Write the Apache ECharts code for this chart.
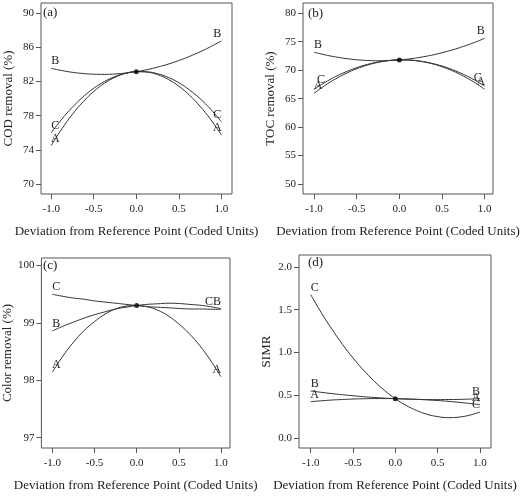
<!DOCTYPE html>
<html>
<head>
<meta charset="utf-8">
<script src="https://cdn.jsdelivr.net/npm/echarts@6/dist/echarts.min.js"></script>
<style>html,body{margin:0;padding:0;background:#fff}#c{width:524px;height:496px}</style>
</head>
<body>
<div id="c"></div>
<script>
// ---- data ----
const xs = [-1, -0.875, -0.75, -0.625, -0.5, -0.375, -0.25, -0.125, 0,
            0.125, 0.25, 0.375, 0.5, 0.625, 0.75, 0.875, 1];

const codA = [74.5, 76.46, 78.17, 79.63, 80.84, 81.8, 82.5, 82.96, 83.16,
              83.11, 82.81, 82.26, 81.46, 80.41, 79.1, 77.55, 75.74];
const codB = [83.55, 83.29, 83.08, 82.94, 82.86, 82.84, 82.89, 82.99, 83.16,
              83.39, 83.69, 84.04, 84.46, 84.94, 85.48, 86.09, 86.76];
const codC = [76.0, 77.61, 79.01, 80.21, 81.21, 82.0, 82.59, 82.98, 83.16,
              83.14, 82.92, 82.49, 81.86, 81.02, 79.99, 78.75, 77.3];

const tocA = [65.94, 67.28, 68.44, 69.43, 70.25, 70.89, 71.37, 71.67, 71.8,
              71.76, 71.54, 71.16, 70.6, 69.87, 68.96, 67.89, 66.64];
const tocB = [73.15, 72.7, 72.33, 72.04, 71.83, 71.7, 71.65, 71.69, 71.8,
              71.99, 72.27, 72.62, 73.06, 73.57, 74.17, 74.84, 75.6];
const tocC = [66.64, 67.82, 68.85, 69.72, 70.44, 71.01, 71.43, 71.69, 71.8,
              71.76, 71.57, 71.22, 70.72, 70.07, 69.27, 68.31, 67.2];

const colorA = [98.14, 98.42, 98.66, 98.86, 99.02, 99.15, 99.24, 99.29, 99.3,
                99.28, 99.22, 99.12, 98.98, 98.81, 98.6, 98.35, 98.06];
const colorB = [98.857, 98.94, 99.01, 99.08, 99.14, 99.19, 99.24, 99.27, 99.3,
                99.32, 99.33, 99.34, 99.335, 99.32, 99.305, 99.28, 99.245];
const colorC = [99.495, 99.46, 99.43, 99.41, 99.38, 99.36, 99.34, 99.32, 99.3,
                99.28, 99.27, 99.26, 99.25, 99.24, 99.24, 99.235, 99.234];

const simrA = [0.425, 0.435, 0.444, 0.45, 0.456, 0.459, 0.461, 0.461, 0.46,
               0.457, 0.452, 0.446, 0.438, 0.429, 0.417, 0.404, 0.39];
const simrB = [0.55, 0.534, 0.519, 0.506, 0.494, 0.483, 0.474, 0.466, 0.46,
               0.455, 0.452, 0.449, 0.449, 0.45, 0.451, 0.455, 0.46];
const simrC = [1.676, 1.466, 1.273, 1.096, 0.936, 0.792, 0.665, 0.554, 0.46,
               0.382, 0.322, 0.277, 0.25, 0.238, 0.244, 0.266, 0.304];

const xTicks = [-1, -0.5, 0, 0.5, 1];
const codTicks = [70, 74, 78, 82, 86, 90];
const tocTicks = [50, 55, 60, 65, 70, 75, 80];
const colorTicks = [97, 98, 99, 100];
const simrTicks = [0, 0.5, 1, 1.5, 2];

const yNames = ['COD removal (%)', 'TOC removal (%)', 'Color removal (%)', 'SIMR'];
const panelTags = ['(a)', '(b)', '(c)', '(d)'];
const xName = 'Deviation from Reference Point (Coded Units)';

// ---- layout / style ----
const FONT = '"Liberation Serif", "Times New Roman", serif';
const INK = '#222';
const LINE = '#333';

const panels = [
  {grid:{left:41, top:3, width:191, height:191}, tag:[43, 6], xmin:-1.12, xmax:1.125, ymin:68.83, ymax:91.2,
   ticks:codTicks, dec:0, series:[['A',codA],['B',codB],['C',codC]], off:{}},
  {grid:{left:303, top:3, width:190, height:191}, tag:[308, 7], xmin:-1.129, xmax:1.097, ymin:48.24, ymax:81.8,
   ticks:tocTicks, dec:0, series:[['A',tocA],['B',tocB],['C',tocC]], off:{C:[[7,-2],[-7,-1]]}},
  {grid:{left:40, top:258, width:190, height:190}, tag:[43, 259], xmin:-1.13, xmax:1.108, ymin:96.82, ymax:100.127,
   ticks:colorTicks, dec:0, series:[['A',colorA],['B',colorB],['C',colorC]], off:{C:[[4,0],[-12,0]]}},
  {grid:{left:299, top:255, width:192, height:193}, tag:[308, 256], xmin:-1.138, xmax:1.13, ymin:-0.117, ymax:2.14,
   ticks:simrTicks, dec:1, series:[['A',simrA],['B',simrB],['C',simrC]], off:{}}
];

const labelStyle = {fontFamily: FONT, fontSize: 12, color: INK};

function mkData(vals, name, off) {
  const n = vals.length;
  const oL = (off && off[0]) || [4, 0];
  const oR = (off && off[1]) || [-4, 0];
  return xs.map((x, i) => {
    const item = {value: [x, vals[i]]};
    if (i === 0 || i === n - 1) {
      item.label = Object.assign({show: true, formatter: name, position: 'top', distance: 1,
        offset: i === 0 ? oL : oR}, labelStyle);
    }
    return item;
  });
}

const option = {
  animation: false,
  backgroundColor: '#fff',
  title: [], grid: [], xAxis: [], yAxis: [], series: []
};

panels.forEach((p, k) => {
  option.grid.push(Object.assign({show: true, borderColor: '#555', borderWidth: 1, containLabel: false}, p.grid));
  option.title.push({text: panelTags[k], left: p.tag[0], top: p.tag[1], padding: 0,
    textStyle: {fontFamily: FONT, fontSize: 13, fontWeight: 'normal', color: INK}});
  option.xAxis.push({
    gridIndex: k, type: 'value', min: p.xmin, max: p.xmax,
    axisLine: {show: false, onZero: false},
    splitLine: {show: false},
    axisTick: {show: true, length: 5, customValues: xTicks, lineStyle: {color: '#555'}},
    axisLabel: {customValues: xTicks, formatter: v => v.toFixed(1), margin: 10,
      fontFamily: FONT, fontSize: 11, color: INK},
    name: xName, nameLocation: 'middle', nameGap: 31,
    nameTextStyle: {fontFamily: FONT, fontSize: 13, color: INK}
  });
  option.yAxis.push({
    gridIndex: k, type: 'value', min: p.ymin, max: p.ymax,
    axisLine: {show: false, onZero: false},
    splitLine: {show: false},
    axisTick: {show: true, length: 5, customValues: p.ticks, lineStyle: {color: '#555'}},
    axisLabel: {customValues: p.ticks, formatter: v => v.toFixed(p.dec), margin: 7,
      fontFamily: FONT, fontSize: 11, color: INK},
    name: yNames[k], nameLocation: 'middle', nameGap: 26,
    nameTextStyle: {fontFamily: FONT, fontSize: 13, color: INK}
  });
  p.series.forEach(([name, vals]) => {
    option.series.push({
      type: 'line', xAxisIndex: k, yAxisIndex: k, smooth: 0.4,
      symbol: 'circle', symbolSize: 0, showSymbol: true, showAllSymbol: true,
      lineStyle: {color: LINE, width: 1}, itemStyle: {color: LINE},
      emphasis: {disabled: true}, silent: true,
      data: mkData(vals, name, p.off[name])
    });
  });
  const mid = xs.indexOf(0);
  option.series.push({
    type: 'scatter', xAxisIndex: k, yAxisIndex: k, symbolSize: 5, silent: true,
    itemStyle: {color: '#000'}, z: 5,
    data: [[xs[mid], p.series[0][1][mid]]]
  });
});

const chart = echarts.init(document.getElementById('c'), null, {renderer: 'canvas'});
chart.setOption(option);
</script>
</body>
</html>
